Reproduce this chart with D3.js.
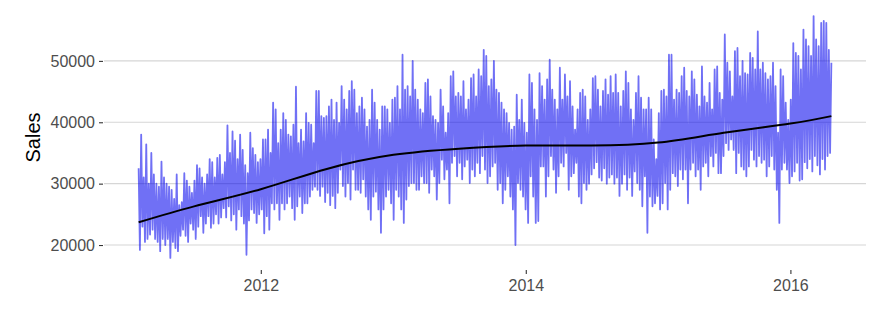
<!DOCTYPE html>
<html>
<head>
<meta charset="utf-8">
<script src="https://cdn.jsdelivr.net/npm/d3@7"></script>
<style>
  body { margin: 0; background: #fff; }
  svg text { font-family: "Liberation Sans", Arial, Helvetica, sans-serif; }
</style>
</head>
<body>
<svg id="chart"></svg>
<script>
let width = 885,
    height = 316;

let panel = { left: 104, right: 866, top: 4, bottom: 270 };

// weekly peak and trough of daily sales (thousands), one pair per week from 29 Jan 2011
let weeklyHigh = [
    32.5, 38.0, 31, 36.4, 30, 35, 31.5, 30, 29.5, 33.6,
    31, 30, 29.5, 29, 27.5, 31.5, 26.5, 27, 31.7, 30.5,
    29.5, 28.5, 30.5, 33, 32.5, 31, 30, 31.5, 34, 33.5,
    31, 34.2, 34.7, 31.5, 33.5, 39.5, 35, 38.5,
    37, 34, 38, 35.5, 33, 31.7, 38.3, 35.8, 34.7, 33.5,
    34, 37.2, 37.2, 38.8, 35, 43.2, 42.1, 36.6, 38.8, 41.5,
    40.4, 38, 37.7, 39.6, 45.8, 36.6, 38.8, 36.9, 41.5, 39.9,
    39.6, 36.6, 45.1, 45.1, 41, 40.7, 41, 42.6, 43.7, 40.4,
    43.2, 39.9, 45.9, 43.7, 42.1, 45.1, 46.7, 45.3, 41.5, 42.6,
    44, 42.1, 39.3, 40.4, 45.3, 43.2, 40.4, 38.8, 42.6, 42.6,
    42.1, 39.9, 43.7, 44, 45.9, 42.1, 51, 45.3, 45.9, 44.2,
    50, 45.3, 43.7, 42.1, 41.5, 46.4, 47, 44.2, 41,
    40.4, 39.9, 45.3, 42.6, 38.3, 41.5, 47.5, 48.3, 44.2, 44.8,
    44.2, 46.7, 42.1, 43.7, 47.2, 47.8, 44.2, 48.6, 47.5, 51.8,
    50.8, 45.9, 47, 50, 45.3, 44.8, 43.2, 42.1, 41.5, 39.9,
    38.8, 39.3, 44.5, 40.4, 43.7, 39.9, 38.3, 47.8, 46.4, 42.1,
    40.4, 48, 45.9, 43.7, 47, 50.2, 45.3, 43.7, 42.1, 48.9,
    43.7, 47.8, 44.2, 46.7, 42.6, 38.8, 42.1, 44.8, 45.3, 44.2,
    40.4, 42.1, 47.2, 47.5, 45.3, 42.6, 45.1, 47, 44.5, 47.5,
    44.8, 47.8, 44.8, 42.6, 45.1, 48.3, 46.4, 42.1, 40.4,
    44.8, 47.5, 44, 42.1, 42.1, 44, 42.1, 37.2, 34, 41.5,
    45.1, 45.3, 44.2, 51, 51, 43.7, 45.3, 44.8, 47.5, 48.9,
    45.1, 44.2, 48.3, 47, 44.5, 42.6, 49.1, 44.2, 43.2, 46.4,
    42.1, 48.6, 49.1, 44.8, 43.7, 54.3, 49.7, 48.3, 44.2,
    51.6, 52.1, 47.5, 50, 48, 47.8, 51.3, 50.5, 48.6, 54.8,
    48.6, 49.7, 48, 47, 47.5, 49.7, 45.9, 38.3, 48.6, 47.5,
    43.2, 40.4, 43.7, 52.9, 51.3, 50.8, 48.6, 55.1, 53.5, 52.4,
    50.8, 57.3, 53.5, 52.4, 56.2, 56.5, 56.2, 51.8, 49.7
];

let weeklyLow = [
    19.2, 23, 20.5, 21, 21.7, 22.5, 21, 20.5, 19, 21,
    20, 21, 17.9, 20.5, 19.5, 19, 21.5, 22.5, 21.5, 20.5,
    23.5, 22.5, 21, 23, 24.7, 22, 23.5, 24.7, 22.8, 23.5,
    25, 23.5, 24.5, 26, 24.5, 26.3, 24, 25,
    22.5, 25.8, 24.7, 23.5, 18.4, 24, 25.8, 25.2, 23.6, 25,
    25.8, 21.9, 24.7, 22.5, 26.8, 25.8, 26.8, 24.1, 26.8, 25.8,
    26.8, 27.9, 26, 24.1, 26.3, 27.9, 25.2, 26.8, 26.8, 27.9,
    29, 29.5, 29, 28, 29.5, 27, 28.5, 26.5, 28, 26,
    28.5, 32.3, 29.6, 27.9, 30.1, 27.4, 32.3, 29, 29, 28.5,
    30.7, 27.9, 25.8, 24.1, 27.9, 28.7, 25.8, 22, 25.8, 27.9,
    29, 26.8, 24.1, 29, 27.9, 25.8, 23.6, 27.4, 29.6, 30.1,
    30.1, 29, 29, 31.2, 30.1, 30.1, 28.5, 32.3, 31.2,
    27.4, 30.1, 33.9, 30.7, 32.3, 26.8, 33.4, 34.5, 31.2, 33.4,
    30.7, 32.8, 33.9, 30.1, 32.3, 31.2, 33.4, 31.7, 34.5, 32.3,
    30.1, 31.2, 32.8, 33.4, 29, 30.1, 26.8, 29, 31.2, 27.9,
    25.8, 20, 30.1, 29, 27.9, 25.8, 23.6, 31.2, 27.9, 23.6,
    23.9, 32.8, 32.8, 27.9, 31.2, 34.5, 32.3, 28.5, 31.2, 33.4,
    32.8, 35, 29, 31.2, 31.7, 33.4, 27.9, 26.8, 30.1, 29,
    30, 31.5, 32.5, 33.5, 31, 30.5, 32.5, 30, 31, 31.5,
    30, 31, 28, 30, 31.5, 29, 31, 28, 32,
    30.1, 29, 26.3, 31.2, 22, 27.9, 26.3, 26.8, 28, 25.8,
    26.8, 30.1, 25.8, 29, 31.7, 31.2, 29.6, 32.3, 30.7, 32.3,
    26.8, 32.3, 33.4, 31.2, 32.3, 29, 32.8, 33.4, 31.2, 34.5,
    32.8, 35, 31.7, 31.7, 34.5, 36.6, 35.5, 37.2, 35.5,
    31.7, 35, 32.8, 32.3, 31.2, 32.8, 35.5, 33.9, 32.8, 34.5,
    33.4, 33.9, 31.2, 32.8, 34.5, 32.3, 29, 23.6, 32.3, 33.4,
    32.3, 30.1, 31.2, 32, 33.4, 30.5, 30.7, 33.5, 32.5, 34,
    32, 34.5, 33, 31.5, 34, 32.3, 34.5, 35
];

// smoothed trend
let trendDates = [
    "2011-01-29", "2011-07-01", "2012-01-01", "2012-07-01", "2013-01-01", "2013-07-01",
    "2014-01-01", "2014-07-01", "2015-01-01", "2015-07-01", "2016-01-01", "2016-04-23"
];
let trendSales = [23700, 26300, 29100, 32400, 34700, 35700, 36200, 36200, 36700, 38300, 39800, 41000];

let yTicks = [20000, 30000, 40000, 50000];
let xTicks = ["2012-01-01", "2014-01-01", "2016-01-01"];

let firstWeek = new Date(2011, 0, 29);
let parseDate = d3.timeParse("%Y-%m-%d");

let svg = d3.select("svg#chart")
    .attr("width", width)
    .attr("height", height);

let points = [];
for (let i = 0; i < weeklyHigh.length; i++) {
    let d = d3.timeDay.offset(firstWeek, 7 * i);
    points.push({ date: d, sales: weeklyHigh[i] * 1000 });
    if (i < weeklyLow.length) {
        points.push({ date: d3.timeHour.offset(d, 84), sales: weeklyLow[i] * 1000 });
    }
}

// ggplot style 5% expansion on both scales
let xExt = d3.extent(points, d => d.date);
let xPad = (xExt[1] - xExt[0]) * 0.05;
let x = d3.scaleTime()
    .domain([new Date(+xExt[0] - xPad), new Date(+xExt[1] + xPad)])
    .range([panel.left, panel.right]);

let yExt = d3.extent(points, d => d.sales);
let yPad = (yExt[1] - yExt[0]) * 0.05;
let y = d3.scaleLinear()
    .domain([yExt[0] - yPad, yExt[1] + yPad])
    .range([panel.bottom, panel.top]);

// grid
svg.append("g")
    .selectAll("line")
    .data(yTicks)
    .enter()
    .append("line")
    .attr("x1", panel.left)
    .attr("x2", panel.right)
    .attr("y1", d => y(d))
    .attr("y2", d => y(d))
    .attr("stroke", "#d6d6d6")
    .attr("stroke-width", 1.1);

svg.append("path")
    .datum(points)
    .attr("fill", "none")
    .attr("stroke", "rgb(0,0,238)")
    .attr("stroke-opacity", 0.56)
    .attr("stroke-width", 1.8)
    .attr("stroke-linejoin", "round")
    .attr("d", d3.line().x(d => x(d.date)).y(d => y(d.sales)));

let trend = trendDates.map((d, i) => ({ date: parseDate(d), sales: trendSales[i] }));

svg.append("path")
    .datum(trend)
    .attr("fill", "none")
    .attr("stroke", "#000")
    .attr("stroke-width", 2)
    .attr("d", d3.line().curve(d3.curveNatural).x(d => x(d.date)).y(d => y(d.sales)));

// axes
let yAxis = svg.append("g")
    .attr("transform", `translate(${panel.left - 1}, 0)`)
    .call(d3.axisLeft(y).tickValues(yTicks).tickSize(4).tickPadding(4).tickFormat(d3.format("d")));

let xAxis = svg.append("g")
    .attr("transform", `translate(0, ${panel.bottom})`)
    .call(d3.axisBottom(x).tickValues(xTicks.map(parseDate)).tickSize(4).tickPadding(6).tickFormat(d3.timeFormat("%Y")));

[yAxis, xAxis].forEach(g => {
    g.select(".domain").remove();
    g.selectAll(".tick line").attr("stroke", "#333").attr("stroke-width", 1.1);
    g.selectAll(".tick text").attr("fill", "#4d4d4d").attr("font-size", 16)
        .style("font-family", "'Liberation Sans', Arial, Helvetica, sans-serif");
});

svg.append("text")
    .attr("transform", "translate(40, 137.5) rotate(-90)")
    .attr("text-anchor", "middle")
    .attr("font-size", 20)
    .attr("fill", "#000")
    .text("Sales");
</script>
</body>
</html>
